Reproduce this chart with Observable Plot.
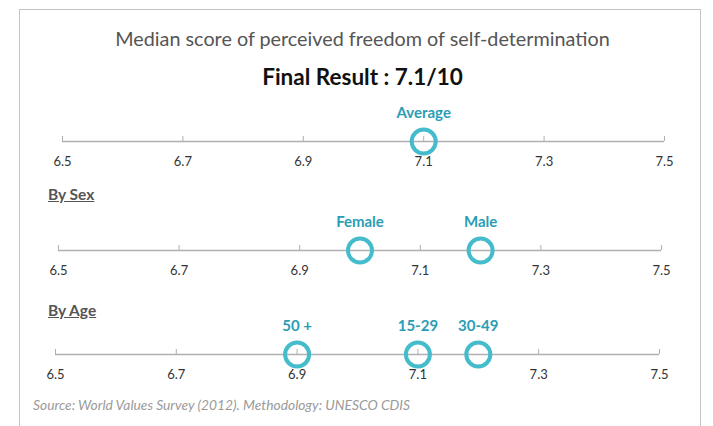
<!DOCTYPE html>
<html>
<head>
<meta charset="utf-8">
<script src="https://cdn.jsdelivr.net/npm/d3@7"></script>
<script src="https://cdn.jsdelivr.net/npm/@observablehq/plot@0.6"></script>
<style>
  html, body { margin: 0; padding: 0; background: #fff; }
  #root { position: relative; width: 713px; height: 426px; overflow: hidden; font-family: Lato, "Open Sans", sans-serif; }
  #box { position: absolute; left: 19px; top: 9px; width: 682px; height: 440px; border: 1.5px solid #c4c4c4; box-sizing: border-box; }
  .t { position: absolute; white-space: nowrap; }
  #title { left: 0; width: 725px; text-align: center; top: 26px; font-size: 19.8px; color: #555; }
  #subtitle { left: 0; width: 725px; text-align: center; top: 63px; font-size: 22.5px; font-weight: 700; color: #111; }
  .sec { left: 48px; font-size: 15.5px; font-weight: 700; color: #555; text-decoration: underline; }
  #src { left: 33px; top: 396px; font-size: 13.8px; font-style: italic; color: #9a9a9a; }
  .plot { position: absolute; }
</style>
</head>
<body>
<div id="root">
  <div id="box"></div>
  <div class="t" id="title">Median score of perceived freedom of self-determination</div>
  <div class="t" id="subtitle">Final Result : 7.1/10</div>
  <div class="t sec" style="top:185px">By Sex</div>
  <div class="t sec" style="top:301px">By Age</div>
  <div class="t" id="src">Source: World Values Survey (2012). Methodology: UNESCO CDIS</div>
</div>
<script>
const xTicks = [6.5, 6.7, 6.9, 7.1, 7.3, 7.5];

const overallLabels = ["Average"];
const overallValues = [7.1];

const sexLabels = ["Female", "Male"];
const sexValues = [7.0, 7.2];

const ageLabels = ["50 +", "15-29", "30-49"];
const ageValues = [6.9, 7.1, 7.2];

const groups = [
  {labels: overallLabels, values: overallValues, top: 96, left: 62, right: 49},
  {labels: sexLabels, values: sexValues, top: 205, left: 58, right: 52},
  {labels: ageLabels, values: ageValues, top: 309, left: 55, right: 54}
];

const circleColor = "#45bccb";
const labelColor = "#2a9db5";

const root = document.getElementById("root");
for (const g of groups) {
  const data = g.labels.map((label, i) => ({label, value: g.values[i]}));
  const chart = Plot.plot({
    width: 713,
    height: 80,
    marginLeft: g.left,
    marginRight: g.right,
    marginTop: 40,
    marginBottom: 35,
    style: {fontFamily: "Lato, 'Open Sans', sans-serif", background: "transparent", overflow: "visible"},
    x: {domain: [6.5, 7.5], ticks: xTicks, label: null},
    y: {domain: [0, 1], axis: null},
    marks: [
      Plot.ruleY([0], {stroke: "#b0b0b0", strokeWidth: 1.5}),
      Plot.axisX({ticks: xTicks, tickSize: 5, dy: -5, tickFormat: () => "", stroke: "#b0b0b0", label: null}),
      Plot.axisX({ticks: xTicks, tickSize: 0, tickPadding: 15, tickFormat: d3.format(".1f"), fontSize: 13, fill: "#333", label: null}),
      Plot.dot(data, {x: "value", y: () => 0, r: 12, stroke: circleColor, strokeWidth: 4, fill: "none"}),
      Plot.text(data, {x: "value", y: () => 0, text: "label", dy: -28, fill: labelColor, fontSize: 15, fontWeight: "bold"})
    ]
  });
  chart.classList.add("plot");
  chart.style.top = g.top + "px";
  chart.style.left = "0px";
  root.appendChild(chart);
}
</script>
</body>
</html>
